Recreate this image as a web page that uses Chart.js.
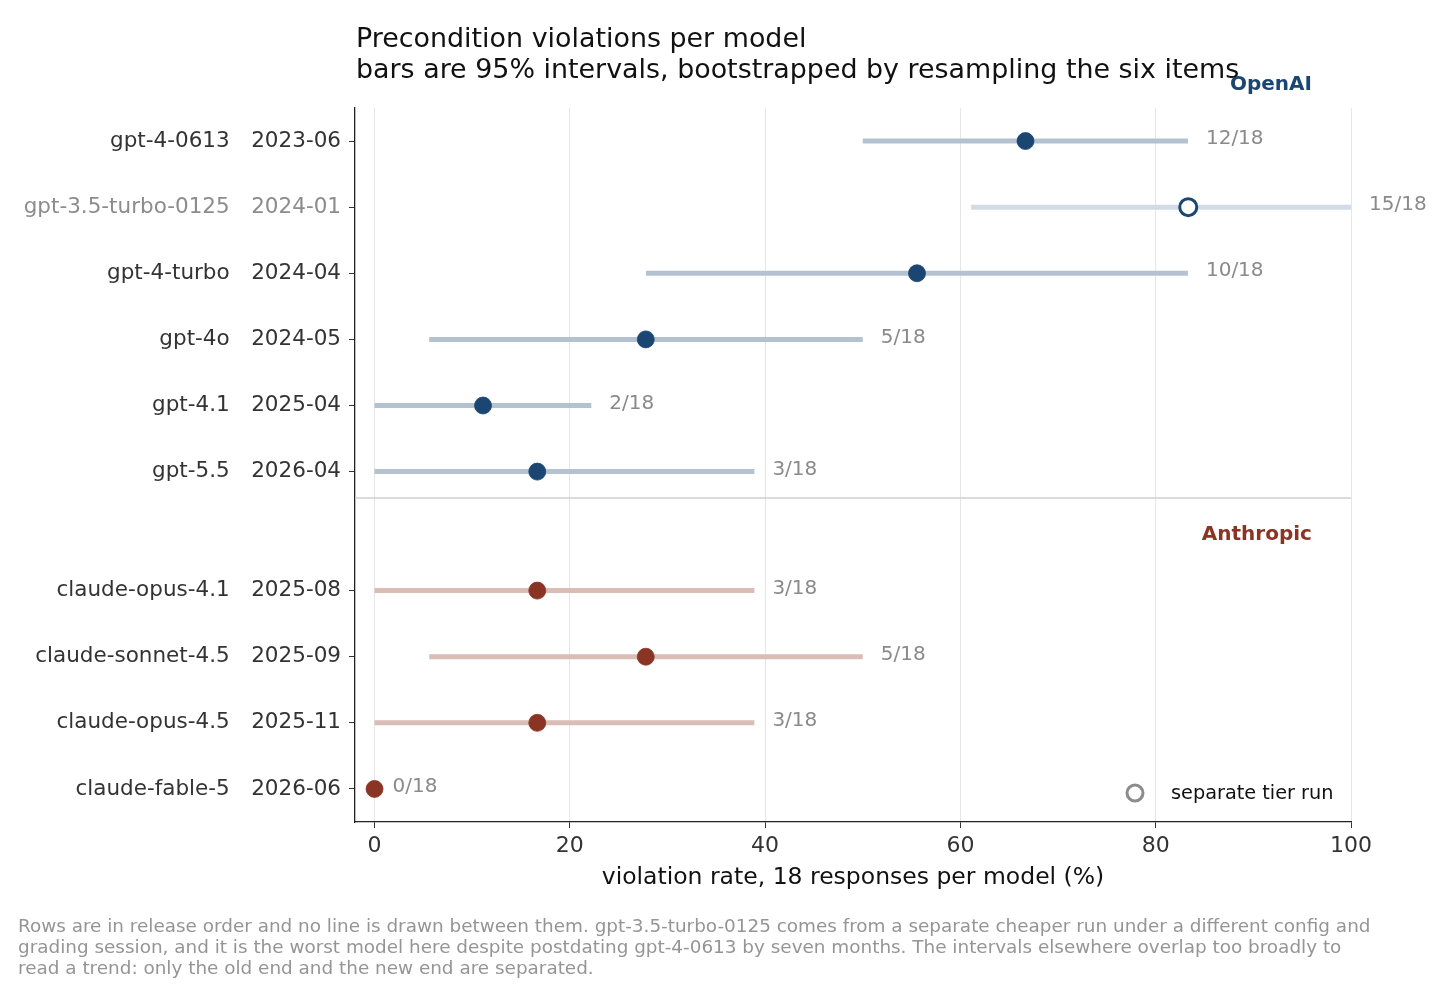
<!DOCTYPE html>
<html>
<head>
<meta charset="utf-8">
<title>Precondition violations per model</title>
<script src="https://cdn.jsdelivr.net/npm/chart.js@4.4.1/dist/chart.umd.min.js"></script>
<style>
  html, body { margin: 0; padding: 0; background: #fff; }
  canvas { display: block; }
</style>
</head>
<body>
<canvas id="chart" width="1456" height="991"></canvas>
<script>
// Data
const models = ['gpt-4-0613', 'gpt-3.5-turbo-0125', 'gpt-4-turbo', 'gpt-4o', 'gpt-4.1', 'gpt-5.5',
                'claude-opus-4.1', 'claude-sonnet-4.5', 'claude-opus-4.5', 'claude-fable-5'];
const releases = ['2023-06', '2024-01', '2024-04', '2024-05', '2025-04', '2026-04',
                  '2025-08', '2025-09', '2025-11', '2026-06'];
const vendors = ['OpenAI', 'OpenAI', 'OpenAI', 'OpenAI', 'OpenAI', 'OpenAI',
                 'Anthropic', 'Anthropic', 'Anthropic', 'Anthropic'];
const separateRun = [false, true, false, false, false, false, false, false, false, false];
const violations = [12, 15, 10, 5, 2, 3, 3, 5, 3, 0];
const responses = 18;
const ciLow = [50.0, 61.1, 27.8, 5.6, 0, 0, 0, 5.6, 0, 0];
const ciHigh = [83.3, 100, 83.3, 50.0, 22.2, 38.9, 38.9, 50.0, 38.9, 0];
const xTicks = [0, 20, 40, 60, 80, 100];

const titleLines = ['Precondition violations per model',
                    'bars are 95% intervals, bootstrapped by resampling the six items'];
const xTitle = 'violation rate, 18 responses per model (%)';
const noteLines = [
  'Rows are in release order and no line is drawn between them. gpt-3.5-turbo-0125 comes from a separate cheaper run under a different config and',
  'grading session, and it is the worst model here despite postdating gpt-4-0613 by seven months. The intervals elsewhere overlap too broadly to',
  'read a trend: only the old end and the new end are separated.'
];

// Styling
const vendorColor = { OpenAI: '#1b4672', Anthropic: '#8a3424' };
const barColor = { OpenAI: '#b3c2d0', Anthropic: '#dbbdb7' };
const barColorSeparate = '#d2dbe5';
const groupGap = 0.8;

// row positions: a gap opens between the two vendor groups
const rowPos = models.map((m, i) => vendors[i] === 'Anthropic' ? i + groupGap : i);
const rates = violations.map(v => v / responses * 100);

Chart.defaults.font.family = '"DejaVu Sans", Verdana, sans-serif';

const datasets = [];
datasets.push({
  type: 'scatter',
  order: 0,
  data: rates.map((r, i) => ({ x: r, y: rowPos[i] })),
  pointRadius: 8.5,
  pointHoverRadius: 8.5,
  pointBackgroundColor: vendors.map((v, i) => separateRun[i] ? '#ffffff' : vendorColor[v]),
  pointBorderColor: vendors.map(v => vendorColor[v]),
  pointBorderWidth: separateRun.map(s => s ? 3 : 0.8)
});
models.forEach((m, i) => {
  datasets.push({
    type: 'line',
    order: 1,
    data: [{ x: ciLow[i], y: rowPos[i] }, { x: ciHigh[i], y: rowPos[i] }],
    borderColor: separateRun[i] ? barColorSeparate : barColor[vendors[i]],
    borderWidth: 5,
    borderCapStyle: 'butt',
    pointRadius: 0,
    pointHoverRadius: 0
  });
});

// Text, group labels, counts and legend
const annotations = {
  id: 'annotations',
  afterDatasetsDraw(chart) {
    const ctx = chart.ctx;
    const x = chart.scales.x, y = chart.scales.y;
    const area = chart.chartArea;
    ctx.save();

    // separator between vendors
    const sepY = y.getPixelForValue(5 + groupGap / 2);
    ctx.strokeStyle = '#cfcfcf';
    ctx.lineWidth = 1.5;
    ctx.beginPath();
    ctx.moveTo(area.left, sepY);
    ctx.lineTo(area.right, sepY);
    ctx.stroke();

    // counts at the right end of each interval
    ctx.font = '20px "DejaVu Sans"';
    ctx.fillStyle = '#8a8a8a';
    ctx.textAlign = 'left';
    ctx.textBaseline = 'middle';
    models.forEach((m, i) => {
      ctx.fillText(violations[i] + '/' + responses,
        x.getPixelForValue(ciHigh[i]) + 18, y.getPixelForValue(rowPos[i]) - 2);
    });

    // vendor labels
    ctx.font = 'bold 20px "DejaVu Sans"';
    ctx.textAlign = 'right';
    ctx.fillStyle = vendorColor.OpenAI;
    ctx.fillText('OpenAI', x.getPixelForValue(96), y.getPixelForValue(-0.85));
    ctx.fillStyle = vendorColor.Anthropic;
    ctx.fillText('Anthropic', x.getPixelForValue(96), y.getPixelForValue(5 + groupGap + 0.15));

    // legend
    const ly = area.bottom - 29;
    ctx.beginPath();
    ctx.arc(area.right - 216, ly, 8, 0, Math.PI * 2);
    ctx.fillStyle = '#fff';
    ctx.fill();
    ctx.lineWidth = 3;
    ctx.strokeStyle = '#8c8c8c';
    ctx.stroke();
    ctx.font = '19.3px "DejaVu Sans"';
    ctx.textAlign = 'left';
    ctx.fillStyle = '#111';
    ctx.fillText('separate tier run', area.right - 180, ly + 1);

    // title
    ctx.font = '26.9px "DejaVu Sans"';
    ctx.fillStyle = '#111';
    ctx.fillText(titleLines[0], area.left + 1, 40);
    ctx.fillText(titleLines[1], area.left + 1, 71);

    // x axis title
    ctx.font = '23.5px "DejaVu Sans"';
    ctx.textAlign = 'center';
    ctx.fillText(xTitle, (area.left + area.right) / 2, 878);

    // footnote
    ctx.font = '18.4px "DejaVu Sans"';
    ctx.textAlign = 'left';
    ctx.fillStyle = '#959595';
    noteLines.forEach((line, k) => ctx.fillText(line, 18, 927 + k * 21));

    ctx.restore();
  }
};

new Chart(document.getElementById('chart'), {
  type: 'scatter',
  data: { datasets: datasets },
  options: {
    responsive: false,
    animation: false,
    layout: { padding: { top: 108, right: 105, left: 0, bottom: 0 } },
    plugins: {
      legend: { display: false },
      tooltip: { enabled: false }
    },
    scales: {
      x: {
        type: 'linear',
        min: -2,
        max: 100,
        afterBuildTicks: scale => { scale.ticks = xTicks.map(v => ({ value: v })); },
        afterFit: scale => { scale.height = 169; },
        grid: { color: '#e6e6e6', lineWidth: 1, tickColor: '#333', tickLength: 6 },
        border: { color: '#222', width: 1.3 },
        ticks: { color: '#333', font: { size: 22 }, padding: 5 }
      },
      y: {
        type: 'linear',
        reverse: true,
        min: -0.5,
        max: 10.3,
        afterBuildTicks: scale => { scale.ticks = rowPos.map(v => ({ value: v })); },
        afterFit: scale => { scale.width = 355; },
        grid: { drawOnChartArea: false, tickColor: '#333', tickLength: 6 },
        border: { color: '#222', width: 1.3 },
        ticks: {
          font: { size: 21.5 },
          padding: 8,
          color: ctx => separateRun[ctx.index] ? '#8c8c8c' : '#333',
          callback: (value, index) => models[index] + '\u2002\u2002' + releases[index]
        }
      }
    }
  },
  plugins: [annotations]
});
</script>
</body>
</html>
